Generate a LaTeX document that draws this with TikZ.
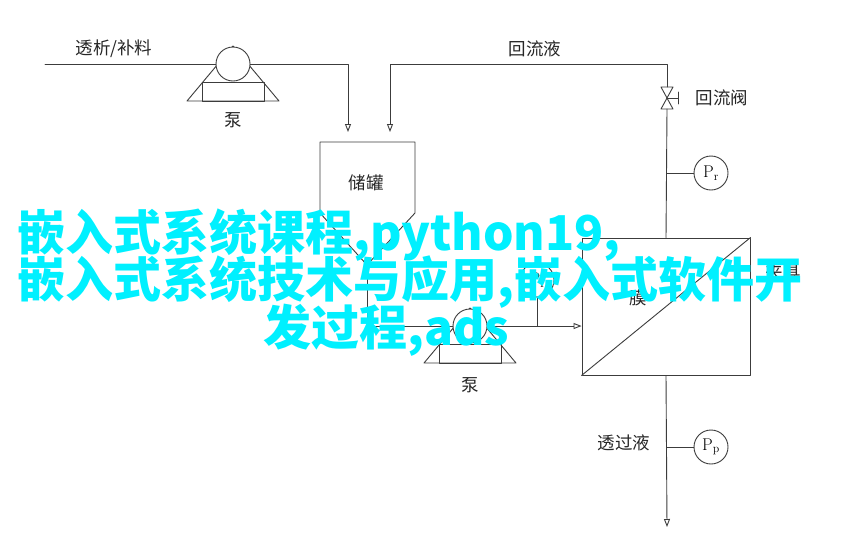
\documentclass[tikz,border=0pt]{standalone}
\usepackage{fontspec}
\newfontfamily\cjk{Noto Sans CJK SC}
\usetikzlibrary{arrows.meta}
\definecolor{cyanmark}{RGB}{0,240,255}
\definecolor{pipegray}{RGB}{60,60,60}

\tikzset{
  pipe/.style={draw=pipegray,line width=0.9pt},
  wheel/.style={circle,draw=pipegray,line width=0.9pt,fill=white,minimum size=34pt,inner sep=0pt},
  gauge/.style={circle,draw=pipegray,line width=0.9pt,minimum size=34pt,inner sep=0pt,font=\fontsize{17}{17}\selectfont},
  lbl/.style={font=\cjk\fontsize{17.5}{17.5}\selectfont,text=black!85,inner sep=0pt},
  banner/.style={font=\cjk\bfseries\fontsize{48}{48}\selectfont,text=cyanmark,inner sep=0pt,anchor=west}
}

\begin{document}
\begin{tikzpicture}[line cap=round,line join=round,>={Triangle[open,length=8pt,width=6pt]},x=1pt,y=-1pt]
\useasboundingbox[fill=white] (0,0) rectangle (858,555);
% pump on the feed line
\begin{scope}[shift={(233,64)},pipe]
\draw (-46,37)--(46,37)--(0,-18)--cycle;
\draw (-31,18) rectangle (31,37);
\end{scope}
\node[wheel] (pumpA) at (233,64) {};
\node[lbl] at (233,120) {泵};
% pump on the circulation line
\begin{scope}[shift={(470,326)},pipe]
\draw (-46,37)--(46,37)--(0,-18)--cycle;
\draw (-31,18) rectangle (31,37);
\end{scope}
\node[wheel] (pumpB) at (470,326) {};
\node[lbl] at (470,385) {泵};
% tank
\coordinate (tankout) at (367,265);
\draw[pipe] (320,142)--(415,142)--(415,213)--(tankout)--(320,213)--cycle;
\node[lbl] at (366,183) {储罐};
% membrane module
\node[pipe,rectangle,minimum width=168pt,minimum height=137pt,inner sep=0pt] (membrane) at (666,306.5) {};
\draw[pipe] (membrane.south west)--(membrane.north east);
\node[lbl] at (638,298) {膜};
\node[lbl] at (783,272) {夹具};
% feed line
\coordinate (feedin) at (45,64);
\draw[pipe] (feedin)--(pumpA.west);
\draw[pipe,->] (pumpA.east)--(348,64)--(348,132);
\node[lbl] at (114,49) {透析/补料};
% circulation line
\draw[pipe] (tankout)--(367,326)--(pumpB.west);
\draw[pipe,->] (pumpB.east)--(membrane.west |- pumpB.east);
\node[gauge] (gaugeF) at (537,280) {P$_\mathrm{f}$};
\draw[pipe] (gaugeF.south)--(537,326);
% retentate line with valve
\coordinate (valve) at (667,98);
\draw[pipe] (661,87)--(673,87)--(661,109)--(673,109)--cycle;
\draw[pipe] (valve)--(678,98) (678,92)--(678,104);
\draw[pipe] (membrane.north)--(667,109);
\draw[pipe,->] (667,87)--(667,64)--(390,64)--(390,132);
\node[lbl] at (535,49) {回流液};
\node[lbl] at (722,98) {回流阀};
\node[gauge] (gaugeR) at (711,173) {P$_\mathrm{r}$};
\draw[pipe] (gaugeR.west)--(667,173);
% permeate line
\draw[pipe,->] (membrane.south)--(667,527);
\node[gauge] (gaugeP) at (711,447) {P$_\mathrm{p}$};
\draw[pipe] (gaugeP.west)--(667,447);
\node[lbl] at (624,443) {透过液};
% overlaid title
\node[banner] (titleA) at (17,235) {嵌入式系统课程,python19,};
\node[banner] (titleB) at (17,282) {嵌入式系统技术与应用,嵌入式软件开};
\node[banner] (titleC) at (263,330) {发过程,ads};
\end{tikzpicture}
\end{document}
